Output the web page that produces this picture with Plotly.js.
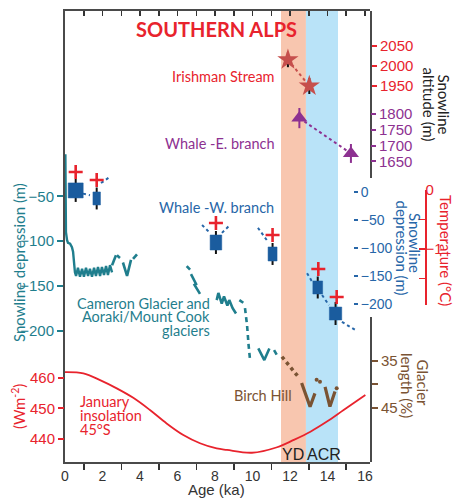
<!DOCTYPE html>
<html><head><meta charset="utf-8">
<script src="https://cdn.plot.ly/plotly-3.0.1.min.js"></script>
<style>body{margin:0;background:#fff;} #chart{width:454px;height:498px;}</style>
</head><body><div id="chart"></div>
<script>
// ---------------- DATA ----------------
const ageLabelTicks = [0, 2, 4, 6, 8, 10, 12, 14, 16];
const ageMinorTicks = [1, 3, 5, 7, 9, 11, 13, 15];
const ageTopTicks = [1, 2, 3, 4, 5, 6, 7, 8, 9, 10, 11, 12, 13, 14, 15, 16];

// YD and ACR periods (ka)
const ydBand = [11.52, 12.85];
const acrBand = [12.85, 14.56];

// January insolation 45°S (W/m2)
const insolAge = [0, 0.98, 1.87, 2.76, 3.64, 4.53, 5.42, 6.31, 7.2, 8.09, 8.64, 9.97, 11.31, 12.2, 13.09, 13.97, 14.86, 16.02];
const insolVal = [461.9, 461.5, 459.3, 456.6, 453.5, 449.5, 445.1, 441.3, 438.6, 436.9, 436.4, 435.5, 437.3, 439.7, 442.4, 445.7, 449.5, 454.4];

// Cameron Glacier and Aoraki/Mount Cook glaciers - snowline depression (m)
const cameronAge = [0.02, 0.03, 0.05, 0.11, 0.16, 0.27, 0.37, 0.43, 0.48, 0.53, 0.59, 0.69, 0.80, 0.91, 1.01, 1.12, 1.23, 1.33, 1.44, 1.55, 1.65, 1.76, 1.87, 1.97, 2.08, 2.19, 2.29, 2.40, 2.51];
const cameronDep = [-3, -54, -90, -99, -102, -103, -107, -112, -128, -135, -139, -130, -140, -131, -140, -130, -139, -131, -140, -130, -139, -129, -139, -129, -138, -128, -138, -127, -135];
const cameronStrokeAge = [2.51, 2.72, null, 2.77, 2.93, null, 3.09, 3.31, 3.52, null, 3.63, 3.84, null,
  6.49, 6.67, null, 6.72, 6.99, 6.91, 7.2, null,
  8.09, 8.18, 8.36, 8.48, 8.66, 8.76, 8.94, 9.12, null, 9.3, 9.51, null,
  10.31, 10.63, 10.9, null, 11.15, 11.29];
const cameronStrokeDep = [-127, -116, null, -116, -119, null, -124, -139, -121, null, -120, -115, null,
  -128, -132, null, -137, -148, -149, -159, null,
  -166, -158, -170, -162, -172, -166, -175, -181, null, -166, -169, null,
  -220, -233, -220, null, -222, -227];
const cameronDashAge = [9.6, 9.71, 9.79, 9.87];
const cameronDashDep = [-175, -194, -216, -233];

// Whale - W. branch: snowline depression (m), boxes and error bars
const whaleWAge = [0.57, 1.69, 8.05, 11.07, 13.48, 14.43];
const whaleWDep = [2.7, -11.6, -90.2, -110.7, -170.5, -217];
const whaleWDepErr = [13.4, 11.6, 13.4, 12.5, 11.6, 11.6];
const whaleWAgeErr = [0.4, 0.2, 0.31, 0.24, 0.26, 0.33];
const whaleWFullErr = [20.5, 19.6, 20.5, 19.6, 19.6, 20.5];
const whaleTrendAge = [0.96, 1.33, null, 1.92, 2.40, null, 7.31, 7.73, null, 8.37, 8.80, null, 10.29, 10.83, null, 12.91, 13.23, null, 13.71, 14.08, null, 14.77, 15.57];
const whaleTrendDep = [-3, -6, null, 16, 27, null, -59, -73, null, -73, -59, null, -64, -89, null, -145, -163, null, -184, -202, null, -232, -248];

// Temperature-equivalent estimates (red crosses), on the snowline depression scale (m)
const crossAge = [0.57, 1.69, 8.05, 11.07, 13.51, 14.49];
const crossDep = [35.7, 21.4, -55.4, -76.8, -137.5, -187.5];

// Irishman Stream snowline altitude (m)
const irishAge = [11.89, 13.03];
const irishAlt = [2016, 1950];
const irishErr = [19, 20];

// Whale - E. branch snowline altitude (m)
const whaleEAge = [12.5, 15.25];
const whaleEAlt = [1787, 1675];
const whaleEErr = [32, 30];

// Birch Hill glacier length (%)
const birchDotAge = [11.57, 12.43];
const birchDotLen = [34.1, 38.3];
const birchArrowAge = [12.62, 13.07, 13.33, null, 13.87, 14.13, 14.4];
const birchArrowLen = [39.7, 44.7, 41.9, null, 40.5, 44.7, 41.5];
const birchPointAge = [13.42, 13.6, 14.49];
const birchPointLen = [39.0, 39.4, 40.8];

// axis tick values
const tealTicks = [-50, -100, -150, -200];
const insolTicks = [440, 450, 460];
const redAltTicks = [1950, 2000, 2050];
const purpleAltTicks = [1650, 1700, 1750, 1800];
const depTicks = [0, -50, -100, -150, -200];
const tempTicks = [0, -1];
const tempMinorTicks = [-0.5, -1.5, -1.95];
const lenTicks = [35, 45];
const lenMinorTicks = [40];

// ---------------- STYLE ----------------
const C = {
  teal: '#1f7e8d', blue: '#1a5c9e', blueTxt: '#2766a8', red: '#e8232d', star: '#c64f4c',
  purple: '#8d3191', brown: '#7a5333', frame: '#4a4a4a', yd: '#f8c6af', acr: '#b9e3f8'
};
const W = 454, H = 498, L = 65, R = 4, T = 11, B = 36;
const PW = W - L - R, PH = H - T - B;
const px = v => (v - L) / PW;
const py = v => (H - B - v) / PH;
const NUM = 'Liberation Sans, Arial, sans-serif';
const TXT = 'Lato, Open Sans, sans-serif';

const traces = [];
traces.push({x: [8], y: [0], xaxis: 'x2', yaxis: 'y', mode: 'markers', marker: {opacity: 0}, hoverinfo: 'skip'});
traces.push({x: [8], y: [-1], xaxis: 'x', yaxis: 'y6', mode: 'markers', marker: {opacity: 0}, hoverinfo: 'skip'});

traces.push({x: insolAge, y: insolVal, yaxis: 'y2', mode: 'lines', line: {color: C.red, width: 1.8, shape: 'spline'}, hoverinfo: 'skip'});
traces.push({x: cameronAge, y: cameronDep, yaxis: 'y', mode: 'lines', line: {color: C.teal, width: 2.4}, hoverinfo: 'skip'});
traces.push({x: cameronStrokeAge, y: cameronStrokeDep, yaxis: 'y', mode: 'lines', connectgaps: false, line: {color: C.teal, width: 2.6}, hoverinfo: 'skip'});
traces.push({x: cameronDashAge, y: cameronDashDep, yaxis: 'y', mode: 'lines', line: {color: C.teal, width: 2.6, dash: '5px,4px'}, hoverinfo: 'skip'});

traces.push({x: whaleTrendAge, y: whaleTrendDep, yaxis: 'y5', mode: 'lines', connectgaps: false, line: {color: C.blueTxt, width: 2, dash: 'dot'}, hoverinfo: 'skip'});
traces.push({x: whaleWAge, y: whaleWDep, yaxis: 'y5', mode: 'markers', marker: {size: 1, color: 'rgba(0,0,0,0)'},
  error_y: {type: 'data', array: whaleWFullErr, color: '#111', thickness: 2, width: 0}, hoverinfo: 'skip'});
whaleWAge.forEach((a, i) => {
  const x0 = a - whaleWAgeErr[i], x1 = a + whaleWAgeErr[i];
  const y0 = whaleWDep[i] - whaleWDepErr[i], y1 = whaleWDep[i] + whaleWDepErr[i];
  traces.push({x: [x0, x1, x1, x0, x0], y: [y0, y0, y1, y1, y0], yaxis: 'y5', mode: 'lines', fill: 'toself',
    fillcolor: C.blue, line: {color: C.blue, width: 0.5}, hoverinfo: 'skip'});
});
traces.push({x: crossAge, y: crossDep, yaxis: 'y5', mode: 'markers',
  marker: {symbol: 'cross-thin', size: 10, color: C.red, line: {color: C.red, width: 2.6}}, hoverinfo: 'skip'});

traces.push({x: irishAge, y: irishAlt, yaxis: 'y3', mode: 'lines+markers', line: {color: C.star, width: 2, dash: 'dot'},
  marker: {symbol: 'star', size: 16, color: C.star}, error_y: {type: 'data', array: irishErr, color: '#111', thickness: 2, width: 0}, hoverinfo: 'skip'});
traces.push({x: whaleEAge, y: whaleEAlt, yaxis: 'y4', mode: 'lines+markers', line: {color: C.purple, width: 2, dash: 'dot'},
  marker: {symbol: 'triangle-up', size: 14, color: C.purple}, error_y: {type: 'data', array: whaleEErr, color: C.purple, thickness: 2, width: 0}, hoverinfo: 'skip'});

traces.push({x: birchDotAge, y: birchDotLen, yaxis: 'y7', mode: 'lines', line: {color: C.brown, width: 3.5, dash: 'dot'}, hoverinfo: 'skip'});
traces.push({x: birchArrowAge, y: birchArrowLen, yaxis: 'y7', mode: 'lines', connectgaps: false, line: {color: C.brown, width: 3.2}, hoverinfo: 'skip'});
traces.push({x: birchPointAge, y: birchPointLen, yaxis: 'y7', mode: 'markers', marker: {color: C.brown, size: 4}, hoverinfo: 'skip'});

traces.forEach(t => { t.showlegend = false; });

const xRange = [0, 16.267];
const xDom = [0, px(370)];
const tick = (c, s) => ({family: NUM, size: s || 15, color: c});

const layout = {
  width: W, height: H, margin: {l: L, r: R, t: T, b: B},
  paper_bgcolor: '#fff', plot_bgcolor: 'rgba(0,0,0,0)', showlegend: false,
  xaxis: {domain: xDom, range: xRange, anchor: 'y', showgrid: false, zeroline: false, showline: true, linecolor: C.frame, linewidth: 2,
    tickmode: 'array', tickvals: ageLabelTicks, ticks: '', tickfont: tick('#333', 14),
    minor: {tickmode: 'array', tickvals: ageMinorTicks, ticks: 'outside', ticklen: 6, tickwidth: 1.5, tickcolor: '#333', showgrid: false}},
  xaxis2: {overlaying: 'x', side: 'top', anchor: 'y', range: xRange, showgrid: false, zeroline: false, showline: true, linecolor: C.frame, linewidth: 2,
    tickmode: 'array', tickvals: ageTopTicks, ticks: 'inside', ticklen: 5, tickwidth: 1.5, tickcolor: '#333', showticklabels: false},
  yaxis: {domain: [0, 1], range: [-346.9, 157], anchor: 'x', side: 'left', showgrid: false, zeroline: false, showline: true, linecolor: C.frame, linewidth: 2,
    tickmode: 'array', tickvals: tealTicks, ticks: 'outside', ticklen: 6, tickwidth: 2, tickcolor: C.teal, tickfont: tick(C.teal)},
  yaxis2: {overlaying: 'y', range: [432.46, 580.3], anchor: 'x', side: 'left', showgrid: false, zeroline: false, showline: false,
    tickmode: 'array', tickvals: insolTicks, ticks: 'outside', ticklen: 6, tickwidth: 2, tickcolor: C.red, tickfont: tick(C.red)},
  yaxis3: {domain: [py(178), 1], range: [1720, 2137.5], anchor: 'x', side: 'right', showgrid: false, zeroline: false, showline: true, linecolor: C.frame, linewidth: 2,
    tickmode: 'array', tickvals: redAltTicks, ticks: 'outside', ticklen: 5, tickwidth: 2, tickcolor: C.red, tickfont: tick(C.red)},
  yaxis4: {overlaying: 'y3', range: [1597.2, 2126.4], anchor: 'x', side: 'right', showgrid: false, zeroline: false, showline: false,
    tickmode: 'array', tickvals: purpleAltTicks, ticks: 'outside', ticklen: 5, tickwidth: 2, tickcolor: C.purple, tickfont: tick(C.purple)},
  yaxis5: {overlaying: 'y', range: [-482, 323], anchor: 'free', position: px(353), side: 'right', showgrid: false, zeroline: false, showline: false,
    tickmode: 'array', tickvals: depTicks, ticks: 'outside', ticklen: 4, tickwidth: 2, tickcolor: C.blueTxt, tickfont: tick(C.blueTxt, 14)},
  yaxis6: {domain: [py(305), py(190)], range: [-1.952, 0.002], anchor: 'free', position: px(425), side: 'right', showgrid: false, zeroline: false,
    showline: true, linecolor: C.red, linewidth: 1.5, ticklabelstandoff: -4,
    tickmode: 'array', tickvals: tempTicks, ticks: 'inside', ticklen: 6, tickwidth: 1.5, tickcolor: C.red, tickfont: tick(C.red),
    minor: {tickmode: 'array', tickvals: tempMinorTicks, ticks: 'inside', ticklen: 6, tickwidth: 1.5, tickcolor: C.red, showgrid: false}},
  yaxis7: {domain: [0, py(317)], range: [56.49, 25.64], anchor: 'x', side: 'right', showgrid: false, zeroline: false, showline: true, linecolor: C.frame, linewidth: 2,
    tickmode: 'array', tickvals: lenTicks, ticks: 'outside', ticklen: 6, tickwidth: 2, tickcolor: C.brown, tickfont: tick(C.brown),
    minor: {tickmode: 'array', tickvals: lenMinorTicks, ticks: 'outside', ticklen: 6, tickwidth: 2, tickcolor: C.brown, showgrid: false}},
  shapes: [
    {type: 'rect', xref: 'x', yref: 'paper', x0: ydBand[0], x1: ydBand[1], y0: 0, y1: 1, fillcolor: C.yd, line: {width: 0}, layer: 'below'},
    {type: 'rect', xref: 'x', yref: 'paper', x0: acrBand[0], x1: acrBand[1], y0: 0, y1: 1, fillcolor: C.acr, line: {width: 0}, layer: 'below'}
  ],
  annotations: []
};

function ann(text, x, y, o) {
  const a = {text: text, x: px(x), y: py(y), xref: 'paper', yref: 'paper', showarrow: false, xanchor: 'center', yanchor: 'middle',
    font: {family: TXT, size: 14.5, color: '#000'}};
  if (o) { if (o.font) { Object.assign(a.font, o.font); delete o.font; } Object.assign(a, o); }
  return a;
}
const A = layout.annotations;
A.push(ann('<b>SOUTHERN ALPS</b>', 216.5, 29, {font: {size: 20, color: C.red}}));
A.push(ann('Irishman Stream', 277, 76, {xanchor: 'right', font: {color: C.red}}));
A.push(ann('Whale -E. branch', 277, 143, {xanchor: 'right', font: {color: C.purple}}));
A.push(ann('Whale -W. branch', 276, 208, {xanchor: 'right', font: {color: C.blueTxt}}));
A.push(ann('Cameron Glacier and', 212, 303, {xanchor: 'right', font: {color: C.teal}}));
A.push(ann('Aoraki/Mount Cook', 212, 316.5, {xanchor: 'right', font: {color: C.teal}}));
A.push(ann('glaciers', 212, 330, {xanchor: 'right', font: {color: C.teal}}));
A.push(ann('January', 78, 401, {xanchor: 'left', font: {color: C.red}}));
A.push(ann('insolation', 78, 415, {xanchor: 'left', font: {color: C.red}}));
A.push(ann('45°S', 78, 429, {xanchor: 'left', font: {color: C.red}}));
A.push(ann('Birch Hill', 263, 395, {font: {color: C.brown}}));
A.push(ann('YD', 306, 454, {xanchor: 'right', font: {family: NUM, size: 16, color: '#222'}}));
A.push(ann('ACR', 305, 454, {xanchor: 'left', font: {family: NUM, size: 16, color: '#222'}}));
A.push(ann('Age (ka)', 216, 490, {font: {family: NUM, size: 15, color: '#333'}}));
A.push(ann('Snowline', 443.5, 104, {textangle: 90, font: {size: 15, color: '#222'}}));
A.push(ann('altitude (m)', 428.5, 104, {textangle: 90, font: {size: 15, color: '#222'}}));
A.push(ann('Snowline', 415, 243, {textangle: 90, font: {size: 15, color: C.blueTxt}}));
A.push(ann('depression (m)', 401.5, 248, {textangle: 90, font: {size: 15, color: C.blueTxt}}));
A.push(ann('Temperature (°C)', 446, 250, {textangle: 90, font: {size: 15, color: C.red}}));
A.push(ann('Glacier', 423, 382.5, {textangle: 90, font: {size: 15, color: C.brown}}));
A.push(ann('length (%)', 407, 385, {textangle: 90, font: {size: 15, color: C.brown}}));
A.push(ann('Snowline depression (m)', 19, 263, {textangle: -90, font: {size: 15, color: C.teal}}));
A.push(ann('(Wm<sup>-2</sup>)', 18, 407, {textangle: -90, font: {size: 15, color: C.red}}));

Plotly.newPlot('chart', traces, layout, {displayModeBar: false, staticPlot: true});
</script></body></html>
